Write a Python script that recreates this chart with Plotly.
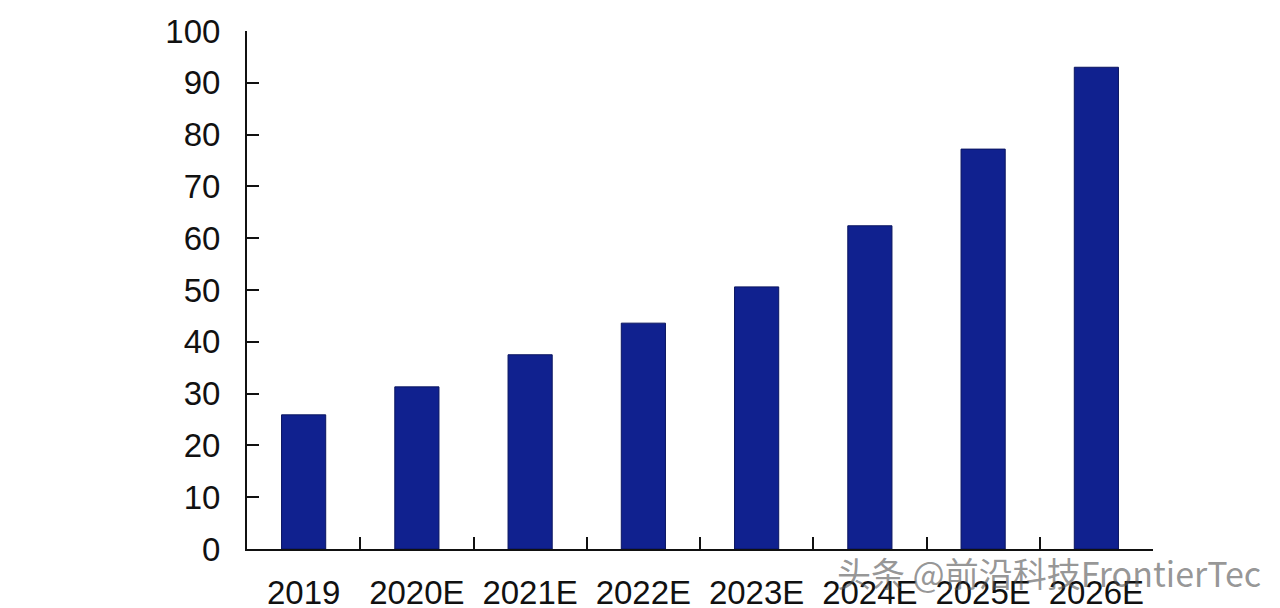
import plotly.graph_objects as go

categories = ["2019", "2020E", "2021E", "2022E", "2023E", "2024E", "2025E", "2026E"]
values = [25.9, 31.3, 37.5, 43.6, 50.6, 62.4, 77.2, 93.0]
y_ticks = [0, 10, 20, 30, 40, 50, 60, 70, 80, 90, 100]

fig = go.Figure()
fig.add_trace(go.Bar(
    x=categories, y=values,
    marker=dict(color="#10218F", line=dict(color="#0A1560", width=1)),
    width=0.39,
))

font = dict(family="Liberation Sans, Arial, sans-serif", size=33, color="#111111")

fig.update_layout(
    width=1280, height=608,
    margin=dict(l=239, r=135, t=23, b=67),
    paper_bgcolor="white", plot_bgcolor="white",
    showlegend=False,
    font=font,
    xaxis=dict(
        showline=True, linecolor="#111111", linewidth=2,
        ticks="inside", ticklen=12, tickwidth=2, tickcolor="#111111",
        tickson="boundaries", showgrid=False, automargin=False,
        tickfont=font, ticklabelstandoff=13,
    ),
    yaxis=dict(
        range=[0, 100], tickvals=y_ticks,
        showline=True, linecolor="#111111", linewidth=2,
        ticks="inside", ticklen=12, tickwidth=2, tickcolor="#111111",
        showgrid=False, zeroline=False, automargin=False,
        tickfont=font, ticklabelstandoff=18,
    ),
)

fig.add_annotation(
    text="头条 @前沿科技FrontierTec",
    xref="paper", yref="paper", x=1.121, y=-0.046,
    xanchor="right", yanchor="middle", showarrow=False,
    font=dict(family="Noto Sans CJK SC, sans-serif", size=34, color="rgba(80,80,80,0.6)"),
)

fig.write_html("out.html")
